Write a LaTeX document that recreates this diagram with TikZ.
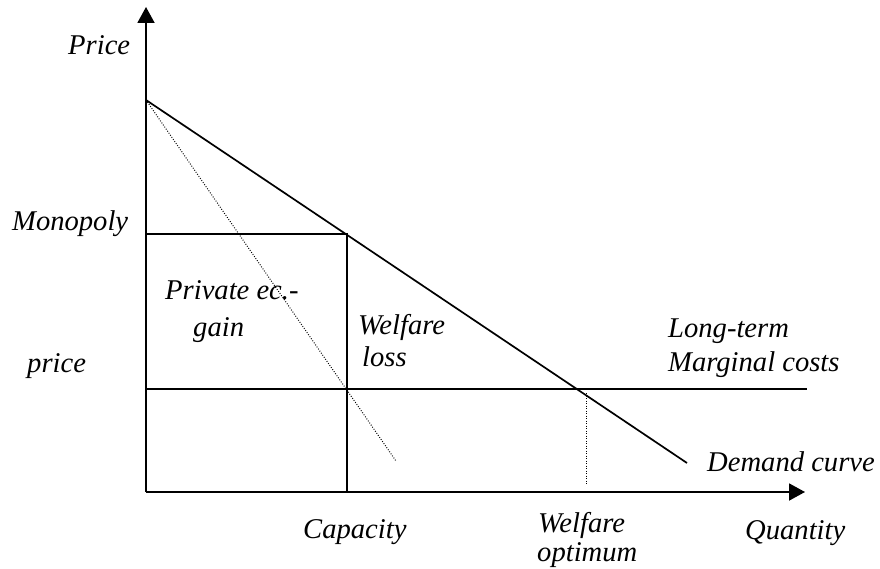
\documentclass[tikz,border=0pt]{standalone}
\usepackage{fontspec}
\setmainfont{Liberation Serif}
\usetikzlibrary{arrows.meta}

\begin{document}
\begin{tikzpicture}[x=1pt,y=-1pt]
      \tikzstyle{label}=[inner sep=0pt,anchor=mid west,yshift=-7pt,font=\fontsize{28.6}{32}\selectfont\itshape]
      \tikzstyle{line}=[line width=1.7pt]
      \tikzstyle{axis}=[line width=1.9pt,-{Triangle[length=16pt,width=17pt]}]
      \useasboundingbox (0,0) rectangle (880,569);
      \coordinate (O) at (146,492);
      \coordinate (Y) at (146,7);
      \coordinate (X) at (805,492);
      \coordinate (D_1) at (146,100);
      \coordinate (D_2) at (687,463);
      \coordinate (M_1) at (146,234);
      \coordinate (M_2) at (347,234);
      \coordinate (C_1) at (146,389);
      \coordinate (C_2) at (347,389);
      \coordinate (C_3) at (807,389);
      \coordinate (Q_1) at (347,492);
      \coordinate (R) at (396,461);
      \coordinate (W_1) at (586,393);
      \coordinate (W_2) at (586,484);
      \draw[axis] (O) -- (Y);
      \draw[axis] (O) -- (X);
      \draw[line] (D_1) -- (D_2);
      \draw[line] (M_1) -- (M_2) -- (Q_1);
      \draw[line] (C_1) -- (C_3);
      \draw[line width=1pt,dash pattern=on 0.9pt off 1.6pt] (D_1) -- (R);
      \draw[line width=1pt,dash pattern=on 0.9pt off 1.6pt] (W_1) -- (W_2);
      \node[label] (price1) at (68,45) {Price};
      \node[label] (mono1) at (12,221) {Monopoly};
      \node[label] (mono2) at (27,363) {price};
      \node[label] (gain1) at (165,290) {Private ec.-};
      \node[label] (gain2) at (193,327) {gain};
      \node[label] (loss1) at (358,325) {Welfare};
      \node[label] (loss2) at (362,357) {loss};
      \node[label] (cost1) at (668,328) {Long-term};
      \node[label] (cost2) at (668,362) {Marginal costs};
      \node[label] (demand) at (707,462) {Demand curve};
      \node[label] (cap) at (303,529) {Capacity};
      \node[label] (opt1) at (538,523) {Welfare};
      \node[label] (opt2) at (537,552) {optimum};
      \node[label] (qty) at (745,530) {Quantity};
    \end{tikzpicture}
\end{document}
